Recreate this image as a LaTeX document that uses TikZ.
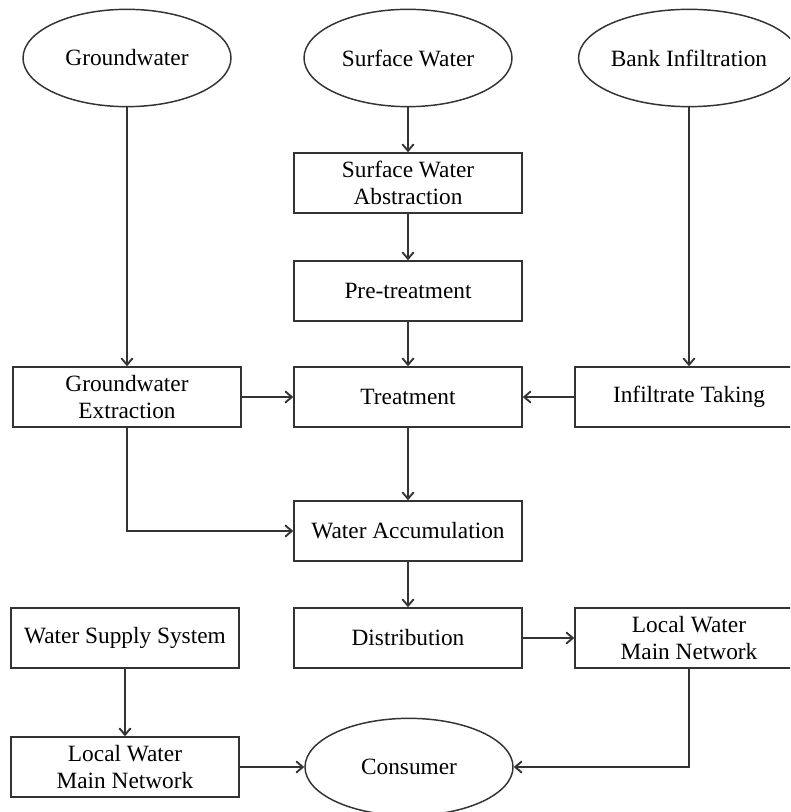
\documentclass[tikz,border=0pt]{standalone}
\usepackage{fontspec}
\setmainfont{Liberation Serif}
\usetikzlibrary{shapes.geometric,arrows.meta}
\definecolor{ln}{HTML}{333333}
\tikzset{stage/.style={draw=ln,rectangle,minimum width=171pt,minimum height=45pt,align=center,inner sep=0pt,font=\fontsize{17.5}{20}\selectfont}}
\tikzset{source/.style={draw=ln,ellipse,minimum width=156pt,minimum height=73pt,inner sep=0pt,font=\fontsize{17.5}{20}\selectfont}}
\tikzset{flow/.style={draw=ln,-{Straight Barb[length=5pt,width=8.5pt,line width=1.4pt]}}}

\begin{document}
\begin{tikzpicture}[x=0.75pt,y=-0.75pt,line width=1.1pt]
        \clip (0,0) rectangle (790,812);
        \node[source] (gw) at (127,58) {Groundwater};
        \node[source] (sw) at (408,58) {Surface Water};
        \node[source] (bank) at (689,58) {Bank Infiltration};

        \node[stage] (swa) at (408,183) {Surface Water\\Abstraction};
        \node[stage] (pre) at (408,291) {Pre-treatment};
        \node[stage] (gwe) at (127,397) {Groundwater\\Extraction};
        \node[stage] (treat) at (408,397) {Treatment};
        \node[stage] (inf) at (689,397) {Infiltrate Taking};
        \node[stage] (acc) at (408,531) {Water Accumulation};
        \node[stage] (wss) at (125,638) {Water Supply System};
        \node[stage] (dist) at (408,638) {Distribution};
        \node[stage] (lwr) at (689,638) {Local Water\\Main Network};
        \node[stage] (lwl) at (125,767) {Local Water\\Main Network};
        \node[source] (cons) at (409,767) {Consumer};

        \draw[flow] (gw) -- (gwe);
        \draw[flow] (sw) -- (swa);
        \draw[flow] (swa) -- (pre);
        \draw[flow] (pre) -- (treat);
        \draw[flow] (bank) -- (inf);
        \draw[flow] (gwe) -- (treat);
        \draw[flow] (inf) -- (treat);
        \draw[flow] (treat) -- (acc);
        \draw[flow] (gwe.south) |- (acc.west);
        \draw[flow] (acc) -- (dist);
        \draw[flow] (dist) -- (lwr);
        \draw[flow] (wss) -- (lwl);
        \draw[flow] (lwl) -- (cons);
        \draw[flow] (lwr.south) |- (cons.east);
    \end{tikzpicture}
\end{document}
